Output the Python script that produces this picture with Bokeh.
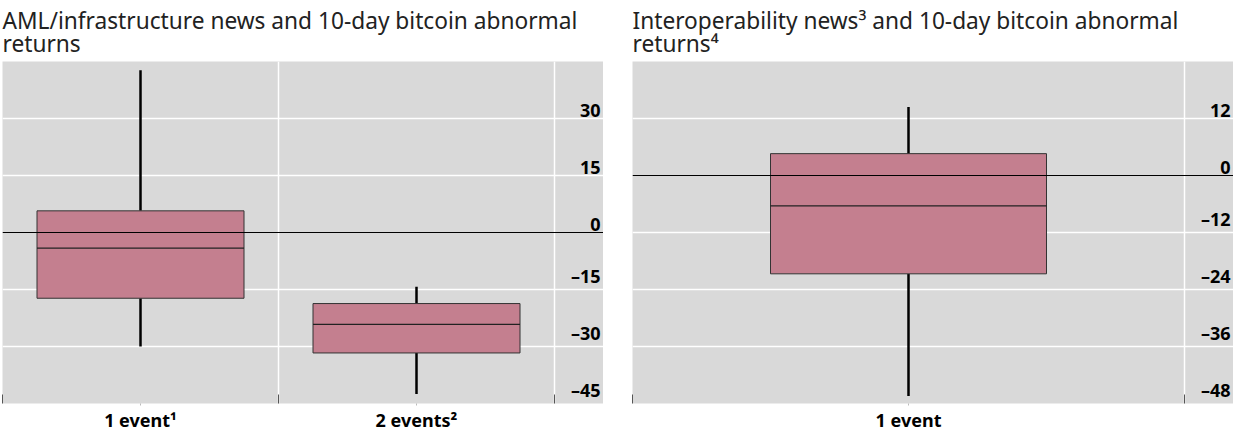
from bokeh.plotting import figure
from bokeh.models import FixedTicker, Span, Title, ColumnDataSource, Range1d
from bokeh.layouts import row
from bokeh.embed import file_html
from bokeh.resources import INLINE
from bokeh.core.properties import value

# ---------------- data ----------------
left_title = "AML/infrastructure news and 10-day bitcoin abnormal\nreturns"
left_categories = ["1 event\u00b9", "2 events\u00b2"]
left_low = [-30.0, -42.5]
left_q1 = [-17.3, -31.7]
left_median = [-4.1, -24.2]
left_q3 = [5.7, -18.7]
left_high = [42.7, -14.3]
left_yticks = [-45, -30, -15, 0, 15, 30]
left_ylim = (-45, 45)

right_title = "Interoperability news\u00b3 and 10-day bitcoin abnormal\nreturns\u2074"
right_categories = ["1 event"]
right_low = [-46.4]
right_q1 = [-20.7]
right_median = [-6.4]
right_q3 = [4.6]
right_high = [14.4]
right_yticks = [-48, -36, -24, -12, 0, 12]
right_ylim = (-48, 24)

# ---------------- style ----------------
FONT = "Noto Sans"
BG = "#d9d9d9"
BOX = "#c47f8f"
FW = 601
FH = 342
LABEL_PX = 49


def fmt(v):
    return ("\u2013" + str(abs(v))) if v < 0 else str(v)


def make_panel(title, cats, low, q1, med, q3, high, yticks, ylim, box_w, left_pad):
    n = len(cats)
    xs = [i + 0.5 for i in range(n)]
    xmax = n * FW / (FW - LABEL_PX)
    p = figure(frame_width=FW, frame_height=FH, output_backend="svg",
               toolbar_location=None,
               x_range=Range1d(0, xmax), y_range=Range1d(*ylim),
               y_axis_location=None, min_border_left=left_pad, min_border_right=0,
               min_border_top=0, min_border_bottom=0)
    p.title = Title(text=title, text_font=FONT, text_font_size="22.7px",
                    text_font_style="normal", text_color="#222222", align="left",
                    text_line_height=0.76, standoff=4)
    p.background_fill_color = BG
    p.outline_line_color = None

    p.xgrid.ticker = FixedTicker(ticks=list(range(1, n + 1)))
    p.xgrid.grid_line_color = "white"
    p.xgrid.grid_line_width = 1.5
    p.ygrid.ticker = FixedTicker(ticks=[t for t in yticks if t != 0])
    p.ygrid.grid_line_color = "white"
    p.ygrid.grid_line_width = 1.5

    ax = p.xaxis[0]
    ax.ticker = FixedTicker(ticks=xs, minor_ticks=list(range(0, n + 1)))
    ax.major_label_overrides = {x: c for x, c in zip(xs, cats)}
    ax.major_label_text_font = FONT
    ax.major_label_text_font_size = "18px"
    ax.major_label_text_font_style = "bold"
    ax.major_label_text_color = "black"
    ax.major_label_standoff = 2
    ax.axis_line_color = None
    ax.major_tick_line_color = "#bbbbbb"
    ax.major_tick_in = 0
    ax.major_tick_out = 2
    ax.minor_tick_line_color = "#555555"
    ax.minor_tick_line_width = 1
    ax.minor_tick_in = 9
    ax.minor_tick_out = 0

    src = ColumnDataSource(dict(x=xs, x0=[x - box_w / 2 for x in xs],
                                x1=[x + box_w / 2 for x in xs],
                                low=low, q1=q1, med=med, q3=q3, high=high))
    p.segment(x0="x", y0="q3", x1="x", y1="high", source=src,
              line_color="black", line_width=2.5)
    p.segment(x0="x", y0="low", x1="x", y1="q1", source=src,
              line_color="black", line_width=2.5)
    p.vbar(x="x", bottom="q1", top="q3", width=box_w, source=src,
           fill_color=BOX, line_color="#333333", line_width=1)
    p.add_layout(Span(location=0, dimension="width", line_color="black",
                      line_width=1.2))
    p.segment(x0="x0", y0="med", x1="x1", y1="med", source=src,
              line_color="#222222", line_width=1.3)

    tsrc = ColumnDataSource(dict(x=[xmax] * len(yticks), y=yticks,
                                 t=[fmt(v) for v in yticks]))
    p.text(x="x", y="y", text="t", source=tsrc, text_align="right",
           text_baseline="bottom", x_offset=-3, y_offset=-2,
           text_font=value(FONT), text_font_size="18px",
           text_font_style="bold", text_color="black")
    return p


p1 = make_panel(left_title, left_categories, left_low, left_q1, left_median,
                left_q3, left_high, left_yticks, left_ylim, 0.75, 2)
p2 = make_panel(right_title, right_categories, right_low, right_q1, right_median,
                right_q3, right_high, right_yticks, right_ylim, 0.5, 0)

layout = row(p1, p2, spacing=29)
open("out.html", "w").write(file_html(layout, INLINE))
